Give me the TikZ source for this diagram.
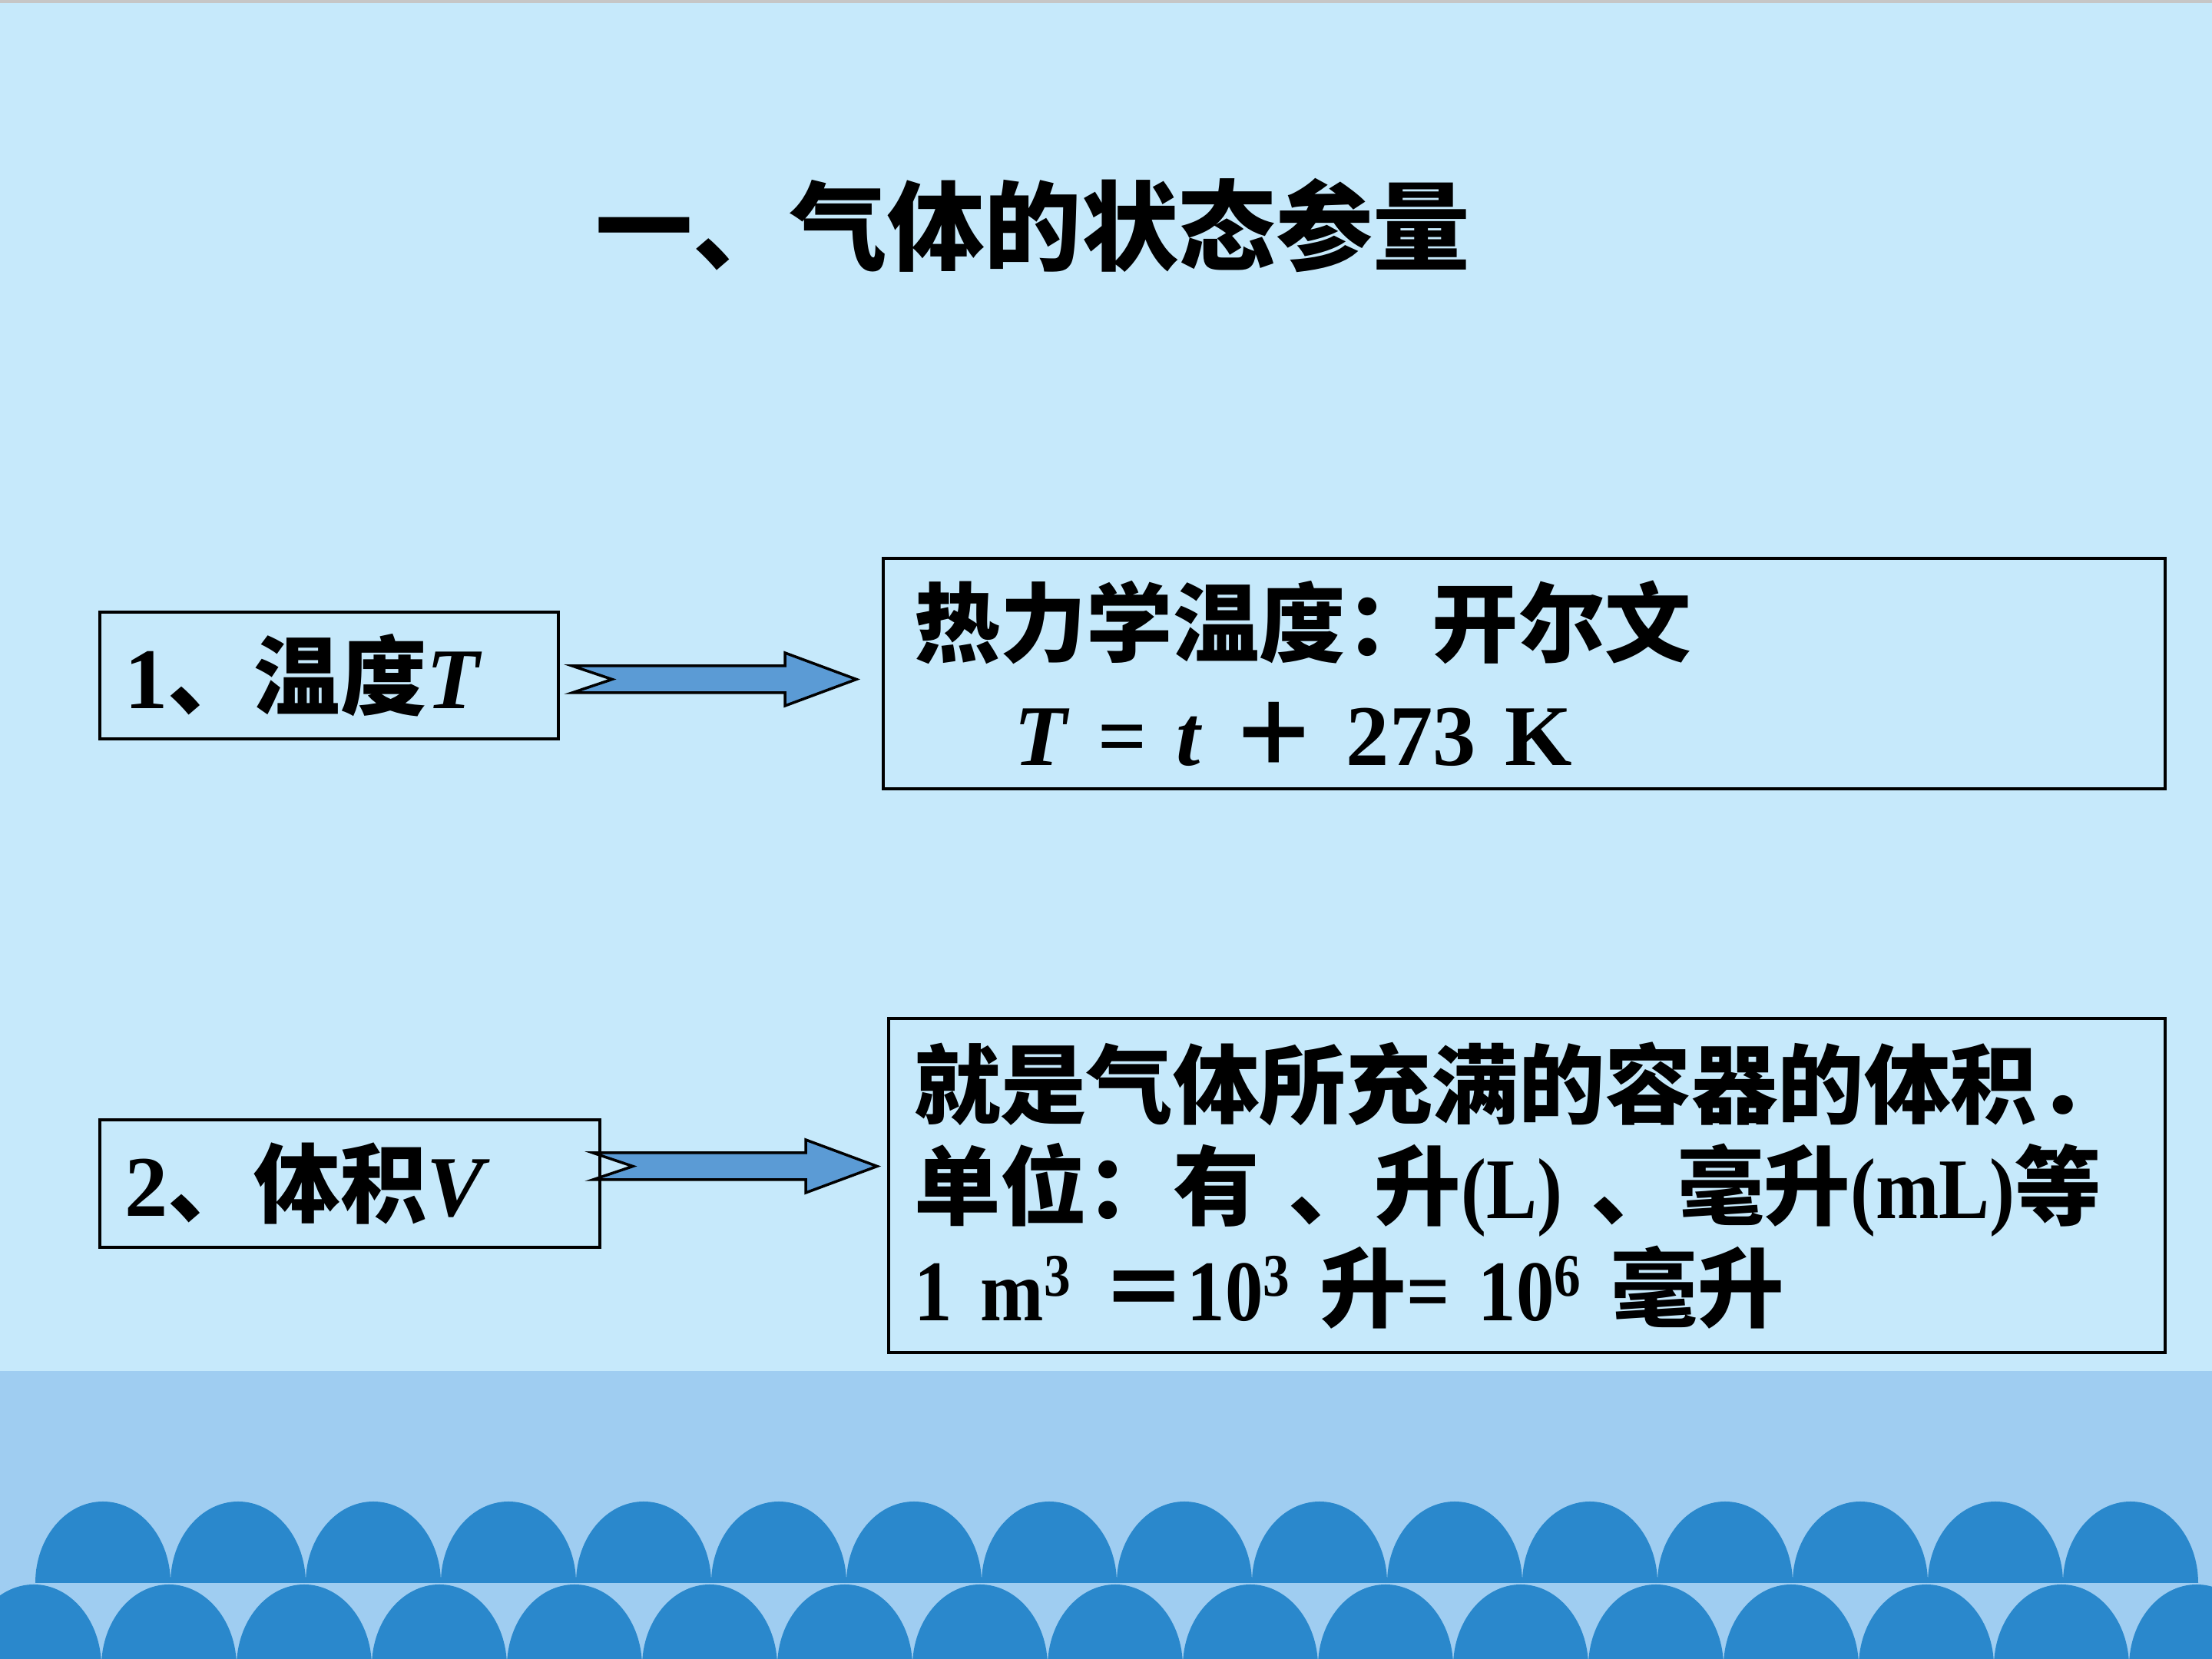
\documentclass[tikz,border=0pt]{standalone}
\usepackage{fontspec}
\setmainfont{Liberation Serif}
\newfontfamily\narrowrm{Liberation Serif}[FakeStretch=0.88]
\newfontfamily\cjk{Noto Sans CJK SC}
\usepackage{tikz}

\definecolor{slidebg}{RGB}{198,233,251}
\definecolor{seaband}{RGB}{159,205,241}
\definecolor{wavecolor}{RGB}{42,136,204}
\definecolor{arrowfill}{RGB}{91,155,213}

\tikzset{
  qbox/.style={draw=black, line width=0.9pt, align=left,
    font=\fontsize{32}{40}\selectfont\bfseries},
  fatarrow/.style={draw=black, fill=arrowfill, line width=1pt, line join=miter},
}

\begin{document}
\begin{tikzpicture}
  \useasboundingbox (0,0) rectangle (28.8,21.6);
  \fill[slidebg] (0,0) rectangle (28.8,21.6);
  \fill[gray!45] (0,21.56) rectangle (28.8,21.6);
  % Sea band with two rows of waves
  \fill[seaband] (0,0) rectangle (28.8,3.75);
  \begin{scope}
    \clip (0,0) rectangle (28.8,3.75);
    \foreach \i in {-1,...,16}{
      \fill[wavecolor] (0.44+1.76*\i-0.88,-0.10)
        arc[start angle=180, end angle=0, x radius=0.88, y radius=1.07] -- cycle;
    }
    \foreach \i in {0,...,15}{
      \fill[wavecolor] (1.34+1.76*\i-0.88,0.99)
        arc[start angle=180, end angle=0, x radius=0.88, y radius=1.06] -- cycle;
    }
  \end{scope}
  % Title
  \node[font=\fontsize{36}{40}\selectfont\bfseries\cjk] (title) at (13.45,18.66)
    {一、气体的状态参量};
  % Temperature
  \node[qbox, text width=5.33cm, inner xsep=0.32cm, minimum height=1.65cm]
    (temp) at (4.285,12.805) {1{\cjk 、温度}\textit{T}};
  \node[qbox, text width=15.89cm, inner xsep=0.40cm, minimum height=3.00cm,
    font=\fontsize{32}{40.7}\selectfont\bfseries]
    (kelvin) at (19.845,12.83)
    {{\cjk 热力学温度：开尔文}\\
     \hspace*{1.3cm}\textit{T} = \textit{t} {\cjk ＋} 273 K};
  % Volume
  \node[qbox, text width=5.87cm, inner xsep=0.32cm, minimum height=1.66cm]
    (vol) at (4.555,6.19) {2{\cjk 、体积}\textit{V}};
  \node[qbox, text width=15.96cm, inner xsep=0.33cm, minimum height=4.35cm,
    font=\fontsize{32}{37.6}\selectfont\bfseries\narrowrm]
    (litre) at (19.88,6.165)
    {{\cjk 就是气体所充满的容器的体积．}\\
     {\cjk 单位：有 、升}(L) {\cjk 、毫升}(mL){\cjk 等}\\
     1 m\textsuperscript{3} {\cjk ＝}10\textsuperscript{3} {\cjk 升}= 10\textsuperscript{6} {\cjk 毫升}};
  % Notched block arrows
  \foreach \ax/\ay in {7.45/12.93, 7.72/6.59}{
    \draw[fatarrow] (\ax,\ay) -- ++(0.52,-0.175) -- ++(-0.52,-0.175)
      -- ++(2.77,0) -- ++(0,-0.17) -- ++(0.93,0.345) -- ++(-0.93,0.345)
      -- ++(0,-0.17) -- cycle;
  }
\end{tikzpicture}
\end{document}
